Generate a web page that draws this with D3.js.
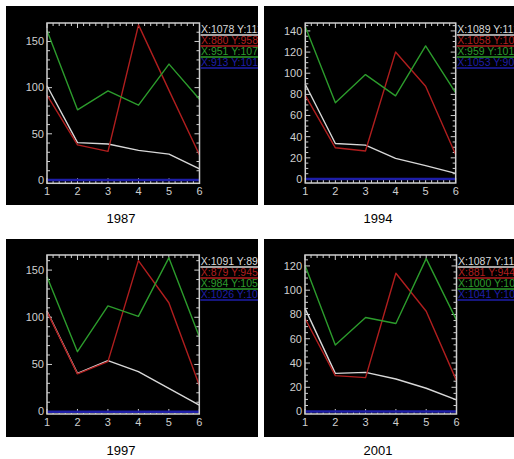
<!DOCTYPE html>
<html>
<head>
<meta charset="utf-8">
<script src="https://cdn.jsdelivr.net/npm/d3@7"></script>
<style>
  body { margin: 0; background: #fff; }
  svg { display: block; font-family: "Liberation Sans", Arial, sans-serif; }
</style>
</head>
<body>
<svg id="chart" width="514" height="459"></svg>
<script>
// ---- data ----
const years = ["1987", "1994", "1997", "2001"];
const xValues = [1, 2, 3, 4, 5, 6];

const whiteSeries = [
  [102, 40.5, 39, 32, 28, 12],
  [89.6, 33.6, 32, 19.5, 12.6, 5.3],
  [106.6, 40.6, 54, 42.4, 24.7, 7],
  [85, 31.5, 32.3, 26.8, 19.2, 9.6]
];
const redSeries = [
  [92, 38, 31, 168, 97, 27],
  [79, 29.5, 26.4, 120, 87.7, 23],
  [106, 40, 53, 160, 115.4, 28],
  [76.7, 29.6, 28, 114, 82.7, 25.5]
];
const greenSeries = [
  [162, 76, 96.5, 81, 125.5, 87.5],
  [144, 72, 98.7, 78.6, 125.8, 81.4],
  [143, 63.5, 112, 101, 163, 79.4],
  [120.5, 54.8, 77.5, 72.6, 126, 75.3]
];
const blueSeries = [
  [0, 0, 0, 0, 0, 0],
  [0, 0, 0, 0, 0, 0],
  [0, 0, 0, 0, 0, 0],
  [0, 0, 0, 0, 0, 0]
];

const yMin = [-3.6, -3.8, -2.5, -2];
const yMax = [170, 147.5, 166, 129];
const yTickStep = [50, 20, 50, 20];
const yMinorStep = [10, 5, 10, 5];

const legendLabels = [
  ["X:1078 Y:1124", "X:880 Y:958\\", "X:951 Y:1079", "X:913 Y:1014"],
  ["X:1089 Y:1125", "X:1058 Y:104", "X:959 Y:1011", "X:1053 Y:909"],
  ["X:1091 Y:8984", "X:879 Y:945(\\", "X:984 Y:1052", "X:1026 Y:105"],
  ["X:1087 Y:1125", "X:881 Y:9440", "X:1000 Y:100", "X:1041 Y:100"]
];

// ---- layout ----
const seriesColors = ["#d8d8d8", "#b01e1e", "#2c9c2c", "#1e1ea8"];
const panels = [
  { bg: [6, 6, 252, 199], plot: [47, 23, 199.5, 183.3], title: [121, 223] },
  { bg: [264, 6, 250, 199], plot: [305.3, 23, 455.7, 183], title: [378, 223] },
  { bg: [6, 239, 252, 198], plot: [47, 255, 199.3, 414], title: [121, 455] },
  { bg: [264, 239, 250, 198], plot: [305, 255, 456.5, 414], title: [378, 455] }
];

const svg = d3.select("#chart");
const defs = svg.append("defs");

function drawPanel(i) {
  const p = panels[i];
  const [bx, by, bw, bh] = p.bg;
  const [x0, y0, x1, y1] = p.plot;

  defs.append("clipPath").attr("id", "clip" + i)
    .append("rect").attr("x", bx).attr("y", by).attr("width", bw).attr("height", bh);

  const g = svg.append("g").attr("clip-path", `url(#clip${i})`);
  g.append("rect").attr("x", bx).attr("y", by).attr("width", bw).attr("height", bh)
    .attr("fill", "#000");

  const x = d3.scaleLinear().domain([1, 6]).range([x0, x1]);
  const y = d3.scaleLinear().domain([yMin[i], yMax[i]]).range([y1, y0]);

  const majorY = d3.range(0, yMax[i] + 0.001, yTickStep[i]);
  const minorY = d3.range(0, yMax[i], yMinorStep[i]).filter(v => v % yTickStep[i] !== 0);
  const minorX = d3.range(1, 6, 0.2).filter(v => Math.abs(v - Math.round(v)) > 0.01);

  const tickCol = "#cfcfcf";
  const ticks = g.append("g").attr("stroke", tickCol).attr("stroke-width", 1);

  // y ticks, left and right, inward
  [[majorY, 5], [minorY, 3]].forEach(([vals, len]) => {
    ticks.selectAll(null).data(vals).join("line")
      .attr("x1", x0).attr("x2", x0 + len)
      .attr("y1", d => y(d)).attr("y2", d => y(d));
    ticks.selectAll(null).data(vals).join("line")
      .attr("x1", x1).attr("x2", x1 - len)
      .attr("y1", d => y(d)).attr("y2", d => y(d));
  });
  // x ticks, bottom and top, inward
  [[xValues, 5], [minorX, 3]].forEach(([vals, len]) => {
    ticks.selectAll(null).data(vals).join("line")
      .attr("x1", d => x(d)).attr("x2", d => x(d))
      .attr("y1", y1).attr("y2", y1 - len);
    ticks.selectAll(null).data(vals).join("line")
      .attr("x1", d => x(d)).attr("x2", d => x(d))
      .attr("y1", y0).attr("y2", y0 + len);
  });

  // tick labels
  g.append("g").selectAll("text").data(majorY).join("text")
    .attr("x", x0 - 3).attr("y", d => y(d)).attr("dy", "0.35em")
    .attr("text-anchor", "end").attr("fill", tickCol).style("font-size", "11px")
    .text(d => d);
  g.append("g").selectAll("text").data(xValues).join("text")
    .attr("x", d => x(d)).attr("y", y1 + 12)
    .attr("text-anchor", "middle").attr("fill", tickCol).style("font-size", "11px")
    .text(d => d);

  // lines
  const line = d3.line().x((d, k) => x(xValues[k])).y(d => y(d));
  const series = [whiteSeries[i], redSeries[i], greenSeries[i], blueSeries[i]];
  series.forEach((s, k) => {
    g.append("path").datum(s)
      .attr("d", line)
      .attr("fill", "none")
      .attr("stroke", seriesColors[k])
      .attr("stroke-width", k === 3 ? 2.5 : 1.4)
      .attr("stroke-linejoin", "round");
  });

  // frame
  g.append("rect").attr("x", x0).attr("y", y0)
    .attr("width", x1 - x0).attr("height", y1 - y0)
    .attr("fill", "none").attr("stroke", tickCol).attr("stroke-width", 1.5);

  // legend: coloured text with an underline, cut off by the panel edge
  const lg = g.append("g");
  legendLabels[i].forEach((lab, k) => {
    const ty = y0 + 9.5 + k * 11;
    lg.append("text").attr("x", x1 + 1.5).attr("y", ty)
      .attr("fill", seriesColors[k]).style("font-size", "10.5px")
      .text(lab);
    lg.append("line").attr("x1", x1 + 1).attr("x2", bx + bw)
      .attr("y1", ty + 2.5).attr("y2", ty + 2.5)
      .attr("stroke", seriesColors[k]).attr("stroke-width", 1.4);
  });

  svg.append("text").attr("x", p.title[0]).attr("y", p.title[1])
    .attr("text-anchor", "middle").attr("fill", "#000").style("font-size", "13px")
    .text(years[i]);
}

years.forEach((_, i) => drawPanel(i));
</script>
</body>
</html>
